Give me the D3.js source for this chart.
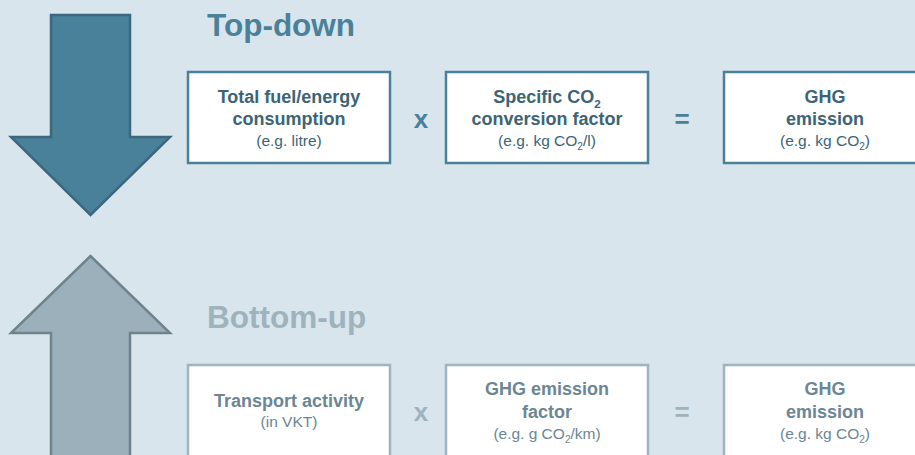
<!DOCTYPE html>
<html lang="en">
<head>
    <meta charset="UTF-8">
    <title>Top-down vs Bottom-up GHG</title>
    <script src="https://d3js.org/d3.v7.min.js"></script>
    <style>
        body { margin: 0; padding: 0; overflow: hidden; background-color: #d9e5ed; }
        svg { display: block; font-family: 'Liberation Sans', Arial, sans-serif; }
    </style>
</head>
<body>
    <svg id="diagram" width="915" height="455"></svg>
    <script>
        // --- Data ---
        const approaches = ["Top-down", "Bottom-up"];
        const topBoxes = [
            ["Total fuel/energy", "consumption"],
            ["Specific CO|2", "conversion factor"],
            ["GHG", "emission"]
        ];
        const topNotes = ["(e.g. litre)", "(e.g. kg CO|2/l)", "(e.g. kg CO|2)"];
        const bottomBoxes = [
            ["Transport activity"],
            ["GHG emission", "factor"],
            ["GHG", "emission"]
        ];
        const bottomNotes = ["(in VKT)", "(e.g. g CO|2/km)", "(e.g. kg CO|2)"];
        const operators = ["x", "="];

        const themes = {
            "Top-down": { fill: "#4a819a", stroke: "#3b687d", title: "#4a819a", box: "#4a819a", text: "#3c6477", op: "#4a819a" },
            "Bottom-up": { fill: "#9bb0bb", stroke: "#6f838d", title: "#9fb3bd", box: "#9fb4bf", text: "#6b8694", op: "#9fb3bd" }
        };

        const svg = d3.select("#diagram");
        const colX = d3.scaleOrdinal().domain([0, 1, 2]).range([188, 446, 724]);
        const opX = d3.scaleOrdinal().domain([0, 1]).range([421, 682]);
        const boxW = 202;

        // arrow shape: shaft 51..130, head 11..170
        function arrowPath(tipY, baseY, endY) {
            const p = d3.path();
            p.moveTo(51, endY);
            p.lineTo(51, baseY);
            p.lineTo(11, baseY);
            p.lineTo(90.5, tipY);
            p.lineTo(170, baseY);
            p.lineTo(130, baseY);
            p.lineTo(130, endY);
            p.closePath();
            return p.toString();
        }

        // subscript lines: "CO|2" -> CO + sub 2
        function addLine(textSel, str, x, y, size, weight) {
            const t = textSel.append("text")
                .attr("x", x).attr("y", y)
                .attr("text-anchor", "middle")
                .attr("font-size", size)
                .attr("font-weight", weight);
            const parts = str.split("|");
            t.append("tspan").text(parts[0]);
            for (let i = 1; i < parts.length; i++) {
                const sub = parts[i].charAt(0);
                const rest = parts[i].slice(1);
                t.append("tspan").attr("dy", size * 0.28).attr("font-size", size * 0.65).text(sub);
                t.append("tspan").attr("dy", -size * 0.28).text(rest);
            }
            return t;
        }

        const rows = [
            { name: approaches[0], boxes: topBoxes, notes: topNotes, titleY: 36, boxY: 72, boxH: 91, lineY: [103, 125], opY: 128 },
            { name: approaches[1], boxes: bottomBoxes, notes: bottomNotes, titleY: 328, boxY: 365, boxH: 110, lineY: [395, 418], opY: 421 }
        ];

        // arrows
        svg.append("path")
            .attr("d", arrowPath(215, 137, 15))
            .attr("fill", themes["Top-down"].fill)
            .attr("stroke", themes["Top-down"].stroke)
            .attr("stroke-width", 2.5);
        svg.append("path")
            .attr("d", arrowPath(256, 333, 470))
            .attr("fill", themes["Bottom-up"].fill)
            .attr("stroke", themes["Bottom-up"].stroke)
            .attr("stroke-width", 2.5);

        rows.forEach(row => {
            const th = themes[row.name];
            const g = svg.append("g");

            g.append("text")
                .attr("x", 207).attr("y", row.titleY)
                .attr("font-size", 31.5)
                .attr("font-weight", "bold")
                .attr("fill", th.title)
                .text(row.name);

            row.boxes.forEach((lines, i) => {
                const x0 = colX(i);
                g.append("rect")
                    .attr("x", x0).attr("y", row.boxY)
                    .attr("width", boxW).attr("height", row.boxH)
                    .attr("fill", "#ffffff")
                    .attr("stroke", th.box)
                    .attr("stroke-width", 2.5);

                const tg = g.append("g").attr("fill", th.text);
                const cx = x0 + boxW / 2;
                // single-line boxes sit lower
                const offset = lines.length === 1 ? 12 : 0;
                lines.forEach((ln, j) => {
                    addLine(tg, ln, cx, row.lineY[j] + offset, 18, "bold");
                });
                const noteY = lines.length === 1 ? row.lineY[0] + offset + 20 : row.lineY[1] + 21;
                addLine(tg, row.notes[i], cx, noteY, 15.5, "normal");
            });

            operators.forEach((op, i) => {
                g.append("text")
                    .attr("x", opX(i)).attr("y", row.opY)
                    .attr("text-anchor", "middle")
                    .attr("font-size", 26)
                    .attr("font-weight", "bold")
                    .attr("fill", th.op)
                    .text(op);
            });
        });
    </script>
</body>
</html>
